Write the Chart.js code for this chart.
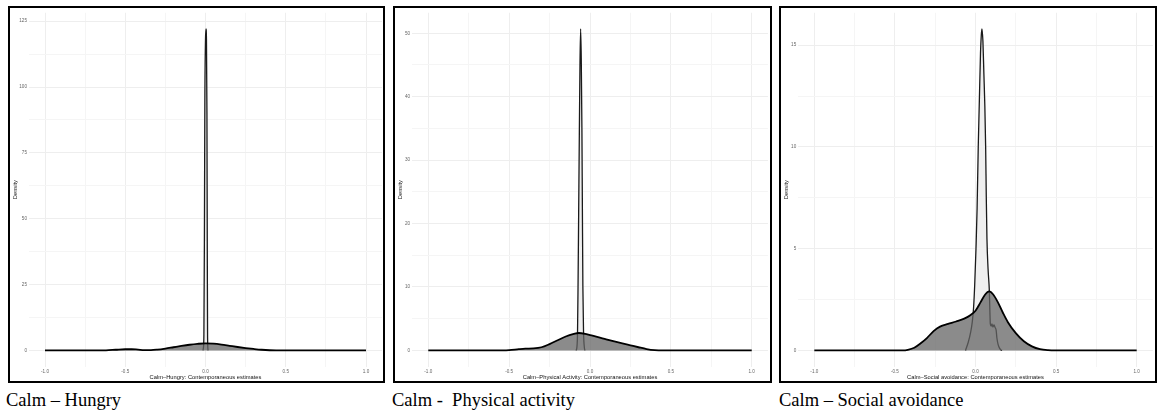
<!DOCTYPE html>
<html><head><meta charset="utf-8">
<script src="https://cdn.jsdelivr.net/npm/chart.js@4"></script>
<style>
html,body{margin:0;padding:0;background:#fff}
body{width:1160px;height:414px;overflow:hidden;position:relative}
.frame{position:absolute;border:2px solid #000;box-sizing:border-box;top:6px;height:377px}
canvas{position:absolute;top:8px}
.cap{position:absolute;top:390.5px;font-family:"Liberation Serif","Times New Roman",serif;font-size:18.5px;line-height:18.5px;white-space:pre;color:#000}
</style>
</head><body>
<div class="frame" style="left:8px;width:377px"></div>
<div class="frame" style="left:393px;width:379px"></div>
<div class="frame" style="left:779px;width:378px"></div>
<canvas id="c1" width="373" height="373" style="left:10px"></canvas>
<canvas id="c2" width="375" height="373" style="left:395px"></canvas>
<canvas id="c3" width="374" height="373" style="left:781px"></canvas>
<div class="cap" id="t1" style="left:6px"></div>
<div class="cap" id="t2" style="left:392px"></div>
<div class="cap" id="t3" style="left:779px"></div>
<script>
// ---- shared axis ticks ----
const xTicks = [-1, -0.75, -0.5, -0.25, 0, 0.25, 0.5, 0.75, 1];
const xTickLabels = ['-1.0', '', '-0.5', '', '0.0', '', '0.5', '', '1.0'];

// ---- panel titles ----
const panelTitles = ['Calm – Hungry', 'Calm -  Physical activity', 'Calm – Social avoidance'];
const xAxisTitles = ['Calm–Hungry: Contemporaneous estimates', 'Calm–Physical Activity: Contemporaneous estimates', 'Calm–Social avoidance: Contemporaneous estimates'];
const yAxisTitle = 'Density';

// ---- Panel 1: Calm – Hungry ----
const hungryYTicks = [0, 12.5, 25, 37.5, 50, 62.5, 75, 87.5, 100, 112.5, 125];
const hungryYLabels = ['0', '', '25', '', '50', '', '75', '', '100', '', '125'];
const hungryWideX = [-1, -0.7, -0.62, -0.56, -0.5, -0.46, -0.42, -0.38, -0.34, -0.3, -0.25, -0.2, -0.15, -0.1, -0.05, 0, 0.05, 0.1, 0.15, 0.2, 0.25, 0.3, 0.35, 0.4, 0.44, 0.5, 1];
const hungryWideY = [0, 0, 0.05, 0.25, 0.45, 0.45, 0.3, 0.15, 0.12, 0.3, 0.7, 1.2, 1.7, 2.15, 2.5, 2.7, 2.55, 2.2, 1.75, 1.3, 0.9, 0.55, 0.25, 0.07, 0.01, 0, 0];
const hungryNarrowX = [-0.016, -0.013, -0.01, -0.007, -0.004, 0, 0.003, 0.006, 0.009, 0.011, 0.013, 0.016];
const hungryNarrowY = [0, 1, 6, 40, 95, 118, 122.1, 118, 90, 40, 5, 0];

// ---- Panel 2: Calm – Physical activity ----
const activityYTicks = [0, 5, 10, 15, 20, 25, 30, 35, 40, 45, 50];
const activityYLabels = ['0', '', '10', '', '20', '', '30', '', '40', '', '50'];
const activityWideX = [-1, -0.6, -0.5, -0.44, -0.4, -0.35, -0.3, -0.25, -0.2, -0.15, -0.1, -0.07, -0.03, 0, 0.05, 0.1, 0.15, 0.2, 0.25, 0.3, 0.35, 0.4, 0.45, 1];
const activityWideY = [0, 0, 0.05, 0.2, 0.28, 0.32, 0.5, 1.0, 1.6, 2.2, 2.6, 2.75, 2.62, 2.42, 2.1, 1.75, 1.42, 1.1, 0.8, 0.5, 0.22, 0.05, 0, 0];
const activityNarrowX = [-0.086, -0.081, -0.077, -0.074, -0.07, -0.066, -0.062, -0.058, -0.054, -0.05, -0.047, -0.044, -0.04, -0.035, -0.031];
const activityNarrowY = [0, 0.5, 3, 10, 22, 34, 45, 50.7, 46, 35, 22, 10, 3, 0.5, 0];

// ---- Panel 3: Calm – Social avoidance ----
const socialYTicks = [0, 2.5, 5, 7.5, 10, 12.5, 15];
const socialYLabels = ['0', '', '5', '', '10', '', '15'];
const socialWideX = [-1, -0.45, -0.42, -0.38, -0.34, -0.3, -0.26, -0.22, -0.17, -0.12, -0.07, -0.03, 0, 0.03, 0.06, 0.085, 0.11, 0.14, 0.17, 0.2, 0.25, 0.3, 0.35, 0.4, 0.45, 0.5, 1];
const socialWideY = [0, 0, 0.03, 0.13, 0.35, 0.62, 0.95, 1.17, 1.3, 1.42, 1.56, 1.74, 1.95, 2.35, 2.75, 2.9, 2.75, 2.35, 1.85, 1.4, 0.85, 0.45, 0.2, 0.06, 0.01, 0, 0];
const socialNarrowX = [-0.062, -0.045, -0.03, -0.02, -0.012, -0.005, 0.003, 0.01, 0.017, 0.024, 0.031, 0.036, 0.04, 0.046, 0.052, 0.058, 0.063, 0.067, 0.071, 0.078, 0.086, 0.089, 0.092, 0.097, 0.102, 0.108, 0.115, 0.122, 0.128, 0.133, 0.14, 0.15, 0.158, 0.165];
const socialNarrowY = [0, 0.4, 0.9, 1.4, 2.1, 3.2, 5, 7, 10, 12.3, 14.6, 15.5, 15.8, 15.2, 13.6, 12, 10, 7.5, 5.5, 4, 2.9, 2.0, 1.3, 1.2, 1.3, 1.15, 1.25, 1.12, 1.0, 0.6, 0.3, 0.1, 0.02, 0];

function pts(xs, ys) { return xs.map((x, i) => ({ x: x, y: ys[i] })); }

const MAJOR = '#eeeeee', MINOR = '#f5f5f5';
const SANS = '"Liberation Sans", Arial, sans-serif';

function makeChart(id, wideX, wideY, narrowX, narrowY, yTicks, yLabels, xTitle, yAxisW, padRight) {
  const peak = Math.max(...narrowY, ...wideY);
  const xH = 14.5;
  new Chart(document.getElementById(id), {
    type: 'line',
    data: {
      datasets: [
        { data: pts(wideX, wideY), order: 0, borderColor: '#000', borderWidth: 1.8,
          backgroundColor: 'rgba(100,100,100,0.75)', fill: 'origin', pointRadius: 0,
          cubicInterpolationMode: 'monotone' },
        { data: pts(narrowX, narrowY), order: 1, borderColor: '#1a1a1a', borderWidth: 1.3,
          backgroundColor: '#efefef', fill: 'origin', pointRadius: 0,
          cubicInterpolationMode: 'monotone' }
      ]
    },
    options: {
      responsive: false, animation: false, events: [],
      layout: { padding: { top: 1.8, right: padRight, bottom: 0, left: 0 } },
      plugins: { legend: { display: false }, tooltip: { enabled: false } },
      scales: {
        x: {
          type: 'linear', min: -1.1, max: 1.1,
          afterBuildTicks: s => { s.ticks = xTicks.map(v => ({ value: v })); },
          afterFit: s => { s.height = xH; },
          border: { display: false },
          grid: { drawTicks: false, lineWidth: 1,
            color: c => (xTickLabels[c.index] === '' ? MINOR : MAJOR) },
          ticks: { padding: 2.5, color: '#666', font: { family: SANS, size: 4.6 },
            maxRotation: 0, autoSkip: false,
            callback: (v, i) => xTickLabels[i] },
          title: { display: true, text: xTitle, color: '#111', padding: { top: 0, bottom: 0 },
            font: { family: SANS, size: 5.75 } }
        },
        y: {
          type: 'linear', min: -0.05 * peak, max: 1.05 * peak,
          afterBuildTicks: s => { s.ticks = yTicks.map(v => ({ value: v })); },
          afterFit: s => { s.width = yAxisW; },
          border: { display: false },
          grid: { drawTicks: false, lineWidth: 1,
            color: c => (yLabels[c.index] === '' ? MINOR : MAJOR) },
          ticks: { padding: 2, color: '#666', font: { family: SANS, size: 4.6 },
            autoSkip: false, callback: (v, i) => yLabels[i] },
          title: { display: true, text: yAxisTitle, color: '#111', padding: { top: 2, bottom: 0 },
            font: { family: SANS, size: 5.75 } }
        }
      }
    }
  });
}

makeChart('c1', hungryWideX, hungryWideY, hungryNarrowX, hungryNarrowY, hungryYTicks, hungryYLabels, xAxisTitles[0], 18.95, 0.95);
makeChart('c2', activityWideX, activityWideY, activityNarrowX, activityNarrowY, activityYTicks, activityYLabels, xAxisTitles[1], 17.1, 2.1);
makeChart('c3', socialWideX, socialWideY, socialNarrowX, socialNarrowY, socialYTicks, socialYLabels, xAxisTitles[2], 17.2, 2.2);

document.getElementById('t1').textContent = panelTitles[0];
document.getElementById('t2').textContent = panelTitles[1];
document.getElementById('t3').textContent = panelTitles[2];
</script>
</body></html>
